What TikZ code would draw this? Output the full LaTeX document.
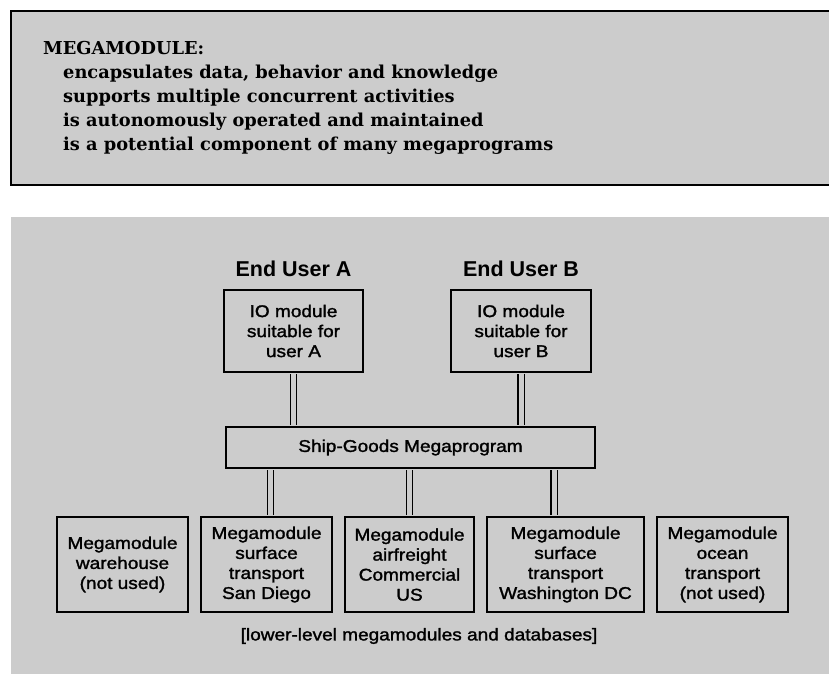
\documentclass[tikz,border=0pt]{standalone}
\usepackage{fontspec}
\setmainfont{DejaVu Serif}
\setsansfont{Liberation Sans}[FakeStretch=1.12,FakeBold=1.6]
\newfontfamily\userfont{Liberation Sans}
\usepackage{xcolor}
\usetikzlibrary{positioning,calc}
\definecolor{screen}{gray}{0.80}
\tikzset{
modbox/.style={draw, line width=1.8pt, inner sep=0pt, align=center,
  font=\sffamily\fontsize{17}{20}\selectfont},
userlabel/.style={inner sep=0pt, font=\userfont\bfseries\fontsize{21.5}{24}\selectfont},
prop/.style={anchor=base west, inner sep=0pt, font=\bfseries\fontsize{17.8}{20}\selectfont},
dbl/.style={double=screen, double distance=5pt, line width=1.2pt,
  shorten <=0.9pt, shorten >=0.9pt}
}

\begin{document}
\begin{tikzpicture}[x=1pt,y=-1pt]
\clip (0,0) rectangle (829,673);
% the two screened panels
\fill[screen] (11,11) rectangle (840,185);
\draw[line width=1.5pt] (840,11) -- (11,11) -- (11,185) -- (840,185);
\fill[screen] (11,217) rectangle (840,680);

\node[prop] (mmhead) at (43,54) {MEGAMODULE:};
\foreach \txt [count=\i] in {{encapsulates data, behavior and knowledge},
  {supports multiple concurrent activities},
  {is autonomously operated and maintained},
  {is a potential component of many megaprograms}} {
  \node[prop] (prop\i) at (63,54+24*\i) {\txt};
}

% io modules for the end users
\node[modbox, minimum width=139pt, minimum height=82pt] (ioA) at (293.5,331)
  {IO module\\suitable for\\user A};
\node[modbox, minimum width=140pt, minimum height=82pt] (ioB) at (521,331)
  {IO module\\suitable for\\user B};
\node[userlabel, above=12pt of ioA] (userA) {End User A};
\node[userlabel, above=12pt of ioB] (userB) {End User B};

\node[modbox, minimum width=369pt, minimum height=41pt] (sgm) at (410.5,447.5)
  {Ship-Goods Megaprogram};

% lower-level megamodules
\foreach \cx/\w/\nm/\txt in {
  122.5/131/mmware/{Megamodule\\warehouse\\(not used)},
  266.5/131/mmsd/{Megamodule\\surface\\transport\\San Diego},
  409.5/129/mmair/{Megamodule\\airfreight\\Commercial\\US},
  565.5/157/mmdc/{Megamodule\\surface\\transport\\Washington DC},
  722.5/131/mmocean/{Megamodule\\ocean\\transport\\(not used)}} {
  \node[modbox, minimum width=\w pt, minimum height=95pt] (\nm) at (\cx,564.5) {\txt};
}
\node[inner sep=0pt, font=\sffamily\fontsize{17}{20}\selectfont] (caption) at (419,636)
  {[lower-level megamodules and databases]};

% double connectors
\draw[dbl] (ioA.south) -- (ioA.south |- sgm.north);
\draw[dbl] (ioB.south) -- (ioB.south |- sgm.north);
\draw[dbl] ([xshift=4pt]mmsd.north) -- ([xshift=4pt]mmsd.north |- sgm.south);
\draw[dbl] (mmair.north) -- (mmair.north |- sgm.south);
\draw[dbl] ([xshift=-11.5pt]mmdc.north) -- ([xshift=-11.5pt]mmdc.north |- sgm.south);
\end{tikzpicture}
\end{document}
